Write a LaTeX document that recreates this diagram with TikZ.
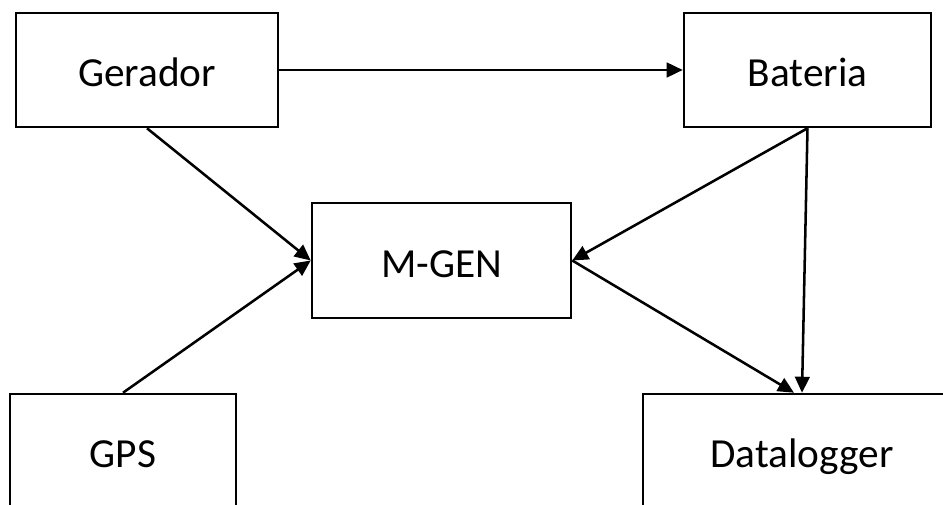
\documentclass[tikz,border=0pt]{standalone}
\usepackage{fontspec}
\setmainfont{Carlito}
\usetikzlibrary{arrows.meta}
\begin{document}
\begin{tikzpicture}[x=0.75pt,y=-0.75pt,
  box/.style={draw=black,line width=1.9pt,fill=white,rectangle,inner sep=0pt,
    font=\fontsize{31pt}{36pt}\selectfont,text height=26pt,text depth=1.2pt},
  conn/.style={line width=1.9pt,-{Triangle[length=12pt,width=11pt]}}]
\clip (0,0) rectangle (943,505);
\fill[white] (0,0) rectangle (943,505);
\node[box,minimum width=262*0.75pt,minimum height=114*0.75pt] (ger) at (147,70) {Gerador};
\node[box,minimum width=247*0.75pt,minimum height=114*0.75pt] (bat) at (807.5,70) {Bateria};
\node[box,minimum width=259*0.75pt,minimum height=115*0.75pt] (mgen) at (441.5,260.5) {M-GEN};
\node[box,minimum width=226*0.75pt,minimum height=114*0.75pt] (gps) at (123,451) {GPS};
\node[box,minimum width=318*0.75pt,minimum height=114*0.75pt] (dl) at (802,451) {Datalogger};
\draw[conn] (ger.east) -- (bat.west);
\draw[conn] (ger.south) -- (mgen.west);
\draw[conn] (gps.north) -- (mgen.west);
\draw[conn] (bat.south) -- (mgen.east);
\draw[conn] (bat.south) -- (dl.north);
\draw[conn] (mgen.east) -- ([xshift=-6pt]dl.north);
\end{tikzpicture}
\end{document}
